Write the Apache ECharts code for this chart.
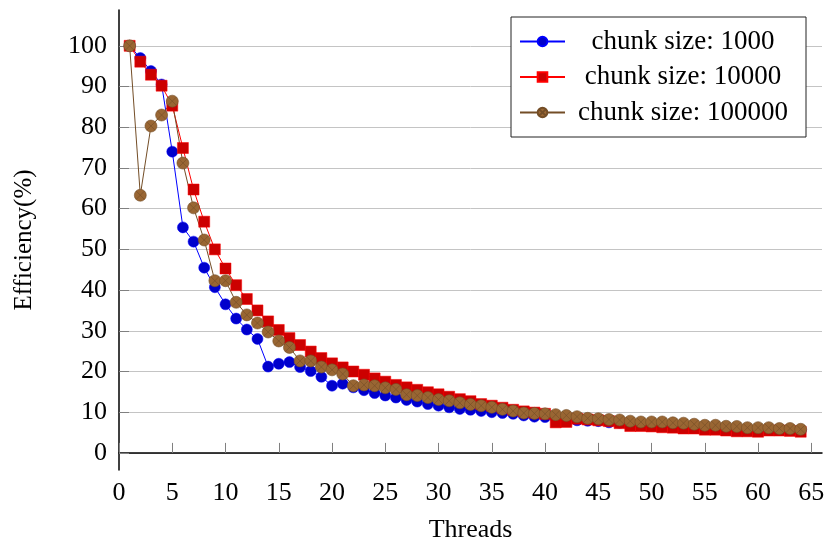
<!DOCTYPE html>
<html>
<head>
<meta charset="utf-8">
<script src="https://cdn.jsdelivr.net/npm/echarts@6.0.0/dist/echarts.min.js"></script>
<style>
html, body { margin: 0; padding: 0; background: #fff; }
#chart { width: 826px; height: 547px; }
</style>
</head>
<body>
<div id="chart"></div>
<script>
// thread counts 1..64
var threads = [];
for (var i = 1; i <= 64; i++) threads.push(i);

var eff1000 = [100, 97, 93.8, 90.5, 74, 55.4, 51.9, 45.5, 40.7, 36.5,
	33.0, 30.3, 28.0, 21.2, 21.9, 22.3, 21.1, 20.1, 18.7, 16.5,
	17.0, 16.1, 15.4, 14.7, 14.1, 13.6, 13.0, 12.6, 12.0, 11.6,
	11.2, 10.8, 10.6, 10.3, 10.0, 9.8, 9.6, 9.2, 8.9, 8.8,
	8.6, 8.3, 8.0, 7.9, 7.8, 7.5, 7.4, 7.3, 7.1, 7.0,
	6.9, 6.8, 6.6, 6.5, 6.3, 6.2, 6.1, 6.0, 5.9, 5.8,
	5.7, 5.7, 5.6, 5.5];

var eff10000 = [100, 96.1, 92.9, 90.2, 85.3, 74.9, 64.7, 56.8, 50.0, 45.3,
	41.2, 37.8, 35.0, 32.3, 30.2, 28.2, 26.5, 24.9, 23.3, 22.0,
	21.0, 20.0, 19.2, 18.3, 17.5, 16.7, 16.1, 15.5, 14.9, 14.4,
	13.8, 13.2, 12.7, 12.0, 11.6, 11.1, 10.6, 10.2, 9.9, 9.6,
	7.5, 7.6, 8.4, 8.2, 8.0, 7.8, 7.3, 6.6, 6.6, 6.5,
	6.3, 6.2, 6.0, 6.0, 5.7, 5.7, 5.5, 5.3, 5.3, 5.2,
	5.5, 5.5, 5.4, 5.2];

var eff100000 = [100, 63.3, 80.3, 83.0, 86.4, 71.2, 60.2, 52.3, 42.3, 42.3,
	37.0, 33.9, 31.9, 29.7, 27.5, 25.9, 22.6, 22.6, 21.1, 20.4,
	19.4, 16.5, 16.7, 16.5, 16.0, 15.6, 14.3, 14.1, 13.6, 13.1,
	12.8, 12.3, 11.9, 11.6, 11.2, 10.7, 10.3, 9.8, 9.7, 9.6,
	9.4, 9.2, 8.9, 8.5, 8.4, 8.2, 8.1, 7.8, 7.6, 7.6,
	7.6, 7.4, 7.3, 7.05, 6.8, 6.8, 6.55, 6.5, 6.2, 6.2,
	6.2, 6.0, 6.0, 5.8];

var xTicks = [0, 5, 10, 15, 20, 25, 30, 35, 40, 45, 50, 55, 60, 65];
var yTicks = [0, 10, 20, 30, 40, 50, 60, 70, 80, 90, 100];

function pairs(ys) {
	var out = [];
	for (var i = 0; i < threads.length; i++) out.push([threads[i], ys[i]]);
	return out;
}

var serif = '"Liberation Serif", "DejaVu Serif", serif';
// circle with a cross, like pgfplots otimes*
var otimes = 'path://M0,10A10,10,0,1,1,20,10A10,10,0,1,1,0,10ZM2.93,2.93L17.07,17.07M17.07,2.93L2.93,17.07';

var myChart = echarts.init(document.getElementById('chart'));
var option = {
	animation: false,
	backgroundColor: '#fff',
	grid: {
		left: 119,
		right: 4,
		top: 10,
		bottom: 77,
		containLabel: false,
		outerBoundsMode: 'none'
	},
	legend: {
		orient: 'vertical',
		left: 511,
		top: 17,
		padding: [11, 10, 11, 8],
		itemGap: 8.5,
		itemWidth: 45,
		itemHeight: 12,
		borderColor: '#222',
		borderWidth: 1,
		backgroundColor: '#fff',
		formatter: '{t|{name}}',
		textStyle: {
			fontFamily: serif,
			fontSize: 27,
			color: '#000',
			rich: {
				t: {
					width: 226,
					align: 'center',
					fontFamily: serif,
					fontSize: 27,
					lineHeight: 26,
					color: '#000'
				}
			}
		}
	},
	xAxis: {
		type: 'value',
		min: 0,
		max: 66,
		name: 'Threads',
		nameLocation: 'middle',
		nameGap: 47,
		nameTextStyle: { fontFamily: serif, fontSize: 26, color: '#000' },
		axisLine: { lineStyle: { color: '#000', width: 1.5 } },
		axisTick: {
			inside: true,
			length: 10,
			lineStyle: { color: '#808080' },
			customValues: xTicks
		},
		axisLabel: {
			margin: 10,
			fontFamily: serif,
			fontSize: 26,
			color: '#000',
			customValues: xTicks
		},
		splitLine: { show: false }
	},
	yAxis: {
		type: 'value',
		min: -4.2,
		max: 108.8,
		name: 'Efficiency(%)',
		nameLocation: 'middle',
		nameGap: 82,
		nameTextStyle: { fontFamily: serif, fontSize: 25, color: '#000' },
		axisLine: { show: true, lineStyle: { color: '#000', width: 1.5 } },
		axisTick: {
			show: true,
			inside: true,
			length: 10,
			lineStyle: { color: '#808080' },
			customValues: yTicks
		},
		axisLabel: {
			margin: 12,
			fontFamily: serif,
			fontSize: 26,
			color: '#000',
			customValues: yTicks
		},
		splitLine: { show: true, lineStyle: { color: '#c4c4c4', width: 1 } }
	},
	series: [{
		name: 'chunk size: 1000',
		type: 'line',
		data: pairs(eff1000),
		symbol: 'circle',
		symbolSize: 11,
		lineStyle: { color: '#0000ff', width: 1 },
		itemStyle: { color: '#0000cc', borderColor: '#0000ff', borderWidth: 0.5 },
		emphasis: { disabled: true }
	}, {
		name: 'chunk size: 10000',
		type: 'line',
		data: pairs(eff10000),
		symbol: 'rect',
		symbolSize: 11,
		lineStyle: { color: '#ff0000', width: 1 },
		itemStyle: { color: '#cc0000', borderColor: '#ff0000', borderWidth: 0.5 },
		emphasis: { disabled: true }
	}, {
		name: 'chunk size: 100000',
		type: 'line',
		data: pairs(eff100000),
		symbol: otimes,
		symbolSize: 12,
		lineStyle: { color: '#734d26', width: 1 },
		itemStyle: { color: '#996633', borderColor: '#734d26', borderWidth: 0.6 },
		emphasis: { disabled: true }
	}]
};
myChart.setOption(option);
window.addEventListener('resize', function () {
	myChart.resize();
});
</script>
</body>
</html>
